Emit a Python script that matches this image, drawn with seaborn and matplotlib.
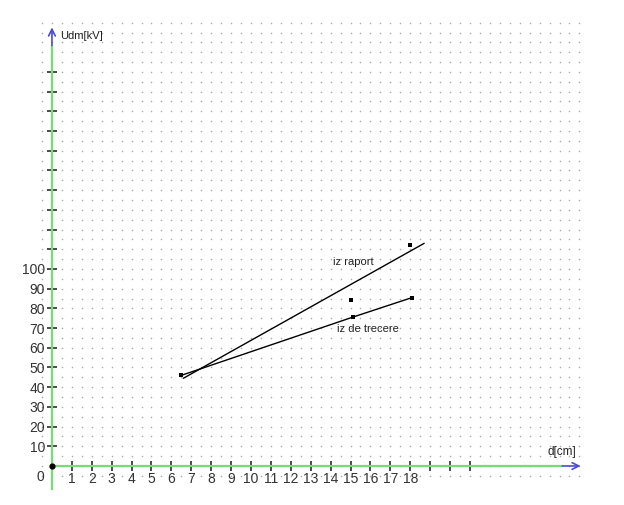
import numpy as np
import pandas as pd
import matplotlib
matplotlib.use("Agg")
import matplotlib.pyplot as plt
import seaborn as sns

sns.set_theme(style="white")
plt.rcParams["font.family"] = ["Liberation Sans", "DejaVu Sans"]

# ── Data ──────────────────────────────────────────────────
raport_d = [6.6, 18.7]
raport_u = [44.5, 113.0]

trecere_d = [6.5, 15.1, 18.1]
trecere_u = [46.0, 75.5, 85.5]

point_d = [6.5, 15.1, 18.1, 15.0, 18.0]
point_u = [46.0, 75.5, 85.5, 84.0, 112.0]

x_ticks = list(range(1, 22))
x_labels = [str(v) for v in range(1, 19)] + ["", "", ""]
y_ticks = list(range(10, 210, 10))
y_labels = [str(v) for v in range(10, 110, 10)] + [""] * 10

green = "#74de74"
blue = "#4b4bd2"

# ── Figure ────────────────────────────────────────────────
fig = plt.figure(figsize=(6.24, 5.05), dpi=100)
ax = fig.add_axes([0, 0, 1, 1])
ax.set_xlim(-2.61, 28.74)
ax.set_ylim(-19.8, 236.5)

# dotted background lattice
gx, gy = np.meshgrid(np.arange(-0.5, 26.8, 0.5), np.arange(-5, 230, 5))
ax.scatter(gx.ravel(), gy.ravel(), s=1.3, color="#aaaaaa", linewidths=0, zorder=0)

# axes through origin
for side in ["top", "right"]:
    ax.spines[side].set_visible(False)
ax.spines["left"].set_position(("data", 0))
ax.spines["bottom"].set_position(("data", 0))
ax.spines["left"].set_bounds(-11.5, 213)
ax.spines["bottom"].set_bounds(0, 25.6)
for side in ["left", "bottom"]:
    ax.spines[side].set_color(green)
    ax.spines[side].set_linewidth(1.6)

ax.annotate("", xy=(0, 224), xytext=(0, 212),
            arrowprops=dict(arrowstyle="->", color=blue, lw=1.2))
ax.annotate("", xy=(26.7, 0), xytext=(25.5, 0),
            arrowprops=dict(arrowstyle="->", color=blue, lw=1.2))

ax.set_xticks(x_ticks)
ax.set_xticklabels(x_labels)
ax.set_yticks(y_ticks)
ax.set_yticklabels(y_labels)
ax.tick_params(axis="both", bottom=True, left=True, direction="inout",
               length=7, width=1.1, color="#1a1a1a", labelsize=10,
               labelcolor="#333333")
ax.tick_params(axis="x", pad=1)
ax.tick_params(axis="y", pad=1.5)

# ── Lines and points ──────────────────────────────────────
sns.lineplot(x=raport_d, y=raport_u, ax=ax, color="black", linewidth=1.0,
             sort=False, estimator=None)
sns.lineplot(x=trecere_d, y=trecere_u, ax=ax, color="black", linewidth=1.0,
             sort=False, estimator=None)
sns.scatterplot(x=point_d, y=point_u, ax=ax, color="black", marker="s", s=7,
                linewidth=0, zorder=5)
ax.scatter([0], [0], s=12, color="black", zorder=6, clip_on=False)

# ── Text ──────────────────────────────────────────────────
ax.text(14.1, 103.5, "iz raport", fontsize=8, color="#222222", ha="left", va="center")
ax.text(14.3, 69.5, "iz de trecere", fontsize=8, color="#222222", ha="left", va="center")
ax.text(0.4, 218, "Udm[kV]", fontsize=8, color="#222222", ha="left", va="center")
ax.text(24.9, 7, "d[cm]", fontsize=8.5, color="#222222", ha="left", va="center")
ax.text(-0.6, -5.5, "0", fontsize=10, color="#333333", ha="center", va="center")

fig.savefig("out.png", dpi=100)
